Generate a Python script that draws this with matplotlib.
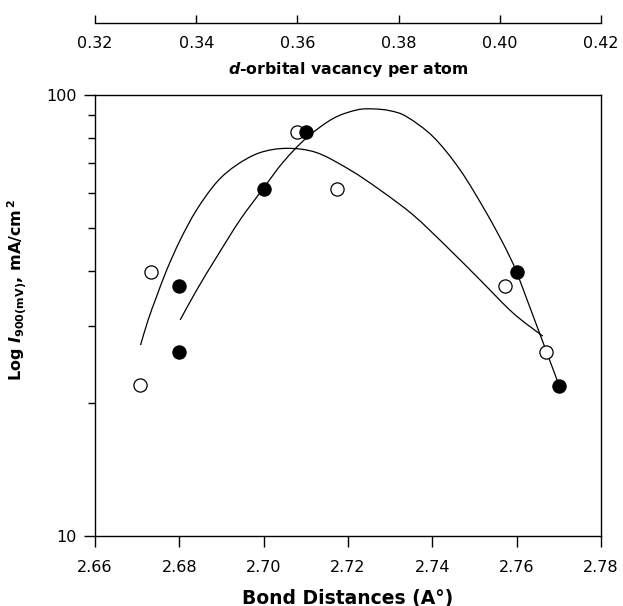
import numpy as np
import matplotlib
matplotlib.use("Agg")
import matplotlib.pyplot as plt
from matplotlib.path import Path
from matplotlib.patches import PathPatch

plt.rcParams['font.family'] = ['DejaVu Sans']
plt.rcParams['mathtext.fontset'] = 'custom'
plt.rcParams['mathtext.rm'] = 'DejaVu Sans:bold'
plt.rcParams['mathtext.it'] = 'DejaVu Sans:italic:bold'
plt.rcParams['mathtext.bf'] = 'DejaVu Sans:bold'

# --- data ---
# open circles
open_x = [2.6707, 2.6732, 2.7078, 2.7173, 2.7572, 2.7669]
open_y = [22.0, 39.7, 82.6, 61.2, 36.8, 26.2]
# filled circles
fill_x = [2.680, 2.680, 2.700, 2.710, 2.760, 2.770]
fill_y = [36.8, 26.2, 61.2, 82.6, 39.7, 21.9]

# fitted curve through the open circles (traced knots)
fit_open_x = [2.6708, 2.6726, 2.6746, 2.6770, 2.6802, 2.6841, 2.6889, 2.6936,
              2.6991, 2.7055, 2.7126, 2.7205, 2.7276, 2.7355, 2.7434, 2.7513,
              2.7592, 2.7662]
fit_open_y = [27.1, 30.9, 34.9, 40.1, 46.9, 54.9, 63.5, 69.4,
              74.0, 75.7, 74.0, 67.6, 60.9, 53.4, 45.3, 38.1,
              32.0, 28.4]

# fitted curve through the filled circles (traced knots)
fit_fill_x = [2.6802, 2.6841, 2.6889, 2.6944, 2.6998, 2.7047, 2.7102, 2.7165,
              2.7221, 2.7260, 2.7300, 2.7339, 2.7402, 2.7466, 2.7529, 2.7576,
              2.7600]
fit_fill_y = [30.9, 36.1, 43.0, 52.1, 61.2, 70.6, 80.0, 88.5,
              92.5, 93.0, 92.1, 89.3, 80.4, 67.6, 53.9, 44.5,
              39.7]
# straight tail of the filled-circle line
tail_x = [2.7600, 2.7701]
tail_y = [39.7, 21.9]

bond_ticks = [2.66, 2.68, 2.70, 2.72, 2.74, 2.76, 2.78]
vac_ticks = [0.32, 0.34, 0.36, 0.38, 0.40, 0.42]


def smooth_path(xs, ys):
    # Catmull-Rom knots -> cubic bezier path, done in (x, log y) space
    x = np.asarray(xs, float)
    ly = np.log10(ys)
    pts = np.column_stack([x, ly])
    verts = [pts[0]]
    codes = [Path.MOVETO]
    n = len(pts)
    for i in range(n - 1):
        p0 = pts[max(i - 1, 0)]
        p1 = pts[i]
        p2 = pts[i + 1]
        p3 = pts[min(i + 2, n - 1)]
        c1 = p1 + (p2 - p0) / 6.0
        c2 = p2 - (p3 - p1) / 6.0
        verts += [c1, c2, p2]
        codes += [Path.CURVE4] * 3
    verts = np.array(verts)
    verts[:, 1] = 10 ** verts[:, 1]
    return Path(verts, codes)


fig = plt.figure(figsize=(6.23, 6.06), dpi=100)
ax = fig.add_axes([0.1525, 0.1155, 0.8122, 0.7277])

for xs, ys in [(fit_open_x, fit_open_y), (fit_fill_x, fit_fill_y)]:
    ax.add_patch(PathPatch(smooth_path(xs, ys), fill=False, edgecolor='black',
                           lw=0.9, zorder=2))
ax.plot(tail_x, tail_y, color='black', lw=0.9, zorder=2)
ax.plot(open_x, open_y, 'o', ms=9.5, mfc='white', mec='black', mew=0.9, zorder=3)
ax.plot(fill_x, fill_y, 'o', ms=9.5, mfc='black', mec='black', mew=0.9, zorder=3)

ax.set_yscale('log')
ax.set_ylim(10, 100)
ax.set_xlim(2.66, 2.78)
ax.set_xticks(bond_ticks)
ax.set_xticklabels([f"{t:.2f}" for t in bond_ticks])
ax.set_yticks([10, 100])
ax.set_yticklabels(['10', '100'])
ax.yaxis.set_minor_formatter(matplotlib.ticker.NullFormatter())
ax.tick_params(axis='both', which='major', direction='out', length=8, width=1,
               labelsize=11.5, right=False, top=False)
ax.tick_params(axis='x', pad=9)
ax.tick_params(axis='y', pad=5)
ax.tick_params(axis='y', which='minor', direction='out', length=5, width=1, right=False)
ax.tick_params(axis='x', which='minor', bottom=False)
for s in ax.spines.values():
    s.set_linewidth(1)

ax.set_xlabel("Bond Distances (A°)", fontsize=13.5, fontweight='bold', labelpad=10)
ax.set_ylabel(r"Log $I$$_{\mathrm{900(mV)}}$, mA/cm$^{\,\mathrm{2}}$", fontsize=11.5,
              fontweight='bold')
ax.yaxis.set_label_coords(-0.13, 0.558)

# top axis: d-orbital vacancy
axt = fig.add_axes([0.1525, 0.962, 0.8122, 0.0001])
axt.set_xlim(0.32, 0.42)
axt.set_xticks(vac_ticks)
axt.set_xticklabels([f"{t:.2f}" for t in vac_ticks])
axt.set_yticks([])
for side in ['top', 'left', 'right']:
    axt.spines[side].set_visible(False)
axt.spines['bottom'].set_linewidth(1)
axt.tick_params(axis='x', direction='in', length=6, width=1, labelsize=11.5, pad=9)
axt.patch.set_visible(False)
axt.set_xlabel("$d$-orbital vacancy per atom", fontsize=11.3, fontweight='bold',
               labelpad=7)

fig.savefig("out.png", dpi=100)
